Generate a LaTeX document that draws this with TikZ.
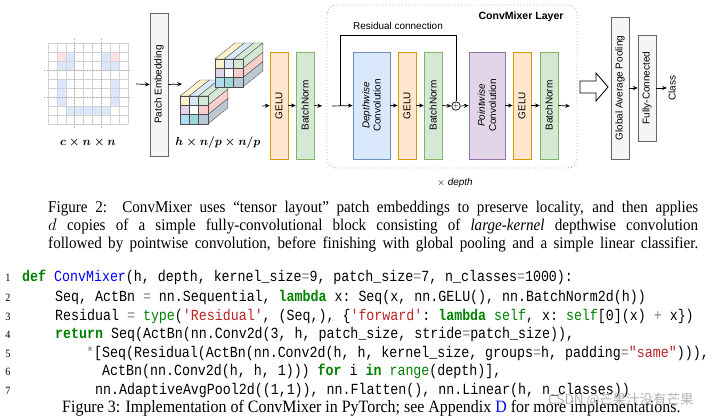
\documentclass[tikz,border=0pt]{standalone}
\usepackage{fontspec}
\setmainfont{Liberation Serif}
\setsansfont{Liberation Sans}
\setmonofont{Liberation Mono}[FakeStretch=0.86]
\newfontfamily\capf{Liberation Serif}[FakeStretch=0.92]
\newfontfamily\cjkf{Noto Sans CJK SC}
\usetikzlibrary{arrows.meta}
\definecolor{ofill}{HTML}{FFE6CC}\definecolor{odraw}{HTML}{D79B00}
\definecolor{gfill}{HTML}{D5E8D4}\definecolor{gdraw}{HTML}{82B366}
\definecolor{bfill}{HTML}{DAE8FC}\definecolor{bdraw}{HTML}{6C8EBF}
\definecolor{pfill}{HTML}{E1D5E7}\definecolor{pdraw}{HTML}{9673A6}
\definecolor{yfill}{HTML}{FFF2CC}\definecolor{rfill}{HTML}{F8CECC}
\definecolor{cfill}{HTML}{B1DDF0}\definecolor{sfill}{HTML}{BAC8D3}
\definecolor{tfill}{HTML}{9ED9D9}
\definecolor{kw}{HTML}{008000}\definecolor{st}{HTML}{BA2121}\definecolor{fn}{HTML}{0000FF}
\newcommand{\kwd}[1]{\textcolor{kw}{\textbf{#1}}}
\newcommand{\bi}[1]{\textcolor{kw}{#1}}
\newcommand{\str}[1]{\textcolor{st}{#1}}
\newcommand{\op}[1]{\textcolor{gray}{#1}}
\tikzset{
 box/.style={draw,line width=0.6pt,minimum height=0.54cm,minimum width=3.21cm,inner sep=0pt,font=\sffamily\fontsize{8.5}{9.5}\selectfont,align=center},
 gelu/.style={box,fill=ofill,draw=odraw},
 bn/.style={box,fill=gfill,draw=gdraw},
 grayb/.style={box,fill=gray!8,draw=gray!80!black},
 arr/.style={-{Stealth[length=4pt,width=3.5pt]},line width=0.6pt},
 code/.style={anchor=base west,inner sep=0pt,font=\ttfamily\fontsize{13.2}{14}\selectfont},
 lno/.style={anchor=base,inner sep=0pt,font=\capf\fontsize{9.5}{10}\selectfont},
 captx/.style={anchor=base west,inner sep=0pt,text width=19.5cm,align=justify,font=\capf\fontsize{14}{15}\selectfont},
 mlab/.style={font=\fontsize{10}{10}\selectfont\mathversion{bold}},
 cl/.style={draw=gray!60!black,line width=0.3pt},
}
\begin{document}
\begin{tikzpicture}[x=0.03cm,y=-0.03cm]
\useasboundingbox (0,0) rectangle (720,417);
% input grid
\foreach \cx/\ry in {1/1,2/1,1/2,2/2,6/1,7/1,6/2,7/2,1/4,1/5,7/4,7/5,1/6,7/6,2/7,3/7,4/7,5/7,6/7}{
  \fill[bfill] (48+\cx*8.9,43+\ry*9) rectangle ++(8.9,9);}
\fill[rfill!60] (56.9,52) rectangle ++(8.9,9);
\fill[rfill!60] (110.3,52) rectangle ++(8.9,9);
\foreach \i in {0,...,9}{
  \draw[gray!35,line width=0.4pt] (48+\i*8.9,43) -- (48+\i*8.9,124);
  \draw[gray!35,line width=0.4pt] (48,43+\i*9) -- (128,43+\i*9);}
\draw[gray!70,dotted,line width=0.6pt] (74.7,39) -- (74.7,128);
\draw[gray!70,dotted,line width=0.6pt] (101.4,39) -- (101.4,128);
\draw[gray!70,dotted,line width=0.6pt] (44,70) -- (132,70);
\draw[gray!70,dotted,line width=0.6pt] (44,97) -- (132,97);
\node[mlab] (lab1) at (88,143) {$c\times n\times n$};
\coordinate (g) at (136,84);
% patch embedding
\node[grayb,minimum width=4.29cm,rotate=90] (pe) at (159,84.5) {Patch Embedding};
\draw[arr] (g) -- (pe.north);
% cubes
\foreach \ox/\oy in {180/96,215/59}{
 \begin{scope}[shift={(\ox,\oy)}]
  \foreach \col/\cc in {0/yfill,1/bfill,2/gfill}{
    \filldraw[fill=\cc,cl] (\col*9.3,0) -- ++(20,-16) -- ++(9.3,0) -- ++(-20,16) -- cycle;}
  \foreach \row/\cc in {0/gfill,1/rfill,2/sfill}{
    \filldraw[fill=\cc,cl] (27.9,\row*9.3) -- ++(20,-16) -- ++(0,9.3) -- ++(-20,16) -- cycle;}
  \foreach \col/\row/\cc in {0/0/yfill,1/0/bfill,2/0/gfill,0/1/pfill,1/1/white,2/1/rfill,0/2/cfill,1/2/tfill,2/2/sfill}{
    \filldraw[fill=\cc,cl] (\col*9.3,\row*9.3) rectangle ++(9.3,9.3);}
 \end{scope}}
\coordinate (cub) at (182,84);
\draw[arr] (pe.south) -- (cub);
\node[mlab] (lab2) at (218,143) {$h\times n/p\times n/p$};
% first block
\coordinate (c1) at (262,106);
\node[gelu,rotate=90] (g1) at (279,105.5) {GELU};
\node[bn,rotate=90] (b1) at (305,105.5) {BatchNorm};
\draw[arr] (c1) -- (g1.north);
\draw[arr] (g1.south) -- (b1.north);
% layer frame
\draw[gray!60,dotted,line width=0.8pt,rounded corners=8pt] (327,5) rectangle (577,168);
\node[font=\sffamily\bfseries\fontsize{9}{10}\selectfont] (ttl) at (521,17) {ConvMixer Layer};
\node[font=\sffamily\fontsize{8.5}{9}\selectfont] (rc) at (398,26) {Residual connection};
\node[font=\sffamily\fontsize{8.5}{9}\selectfont] (xd) at (455,183) {$\times$ \textit{depth}};
\coordinate (in) at (332,106);
\coordinate (split) at (340,106);
\coordinate (bo) at (322,106);
\draw[arr] (b1.south) -- (bo);
\node[box,fill=bfill,draw=bdraw,minimum height=1.11cm,rotate=90] (dw) at (371.5,105.5) {\textit{Depthwise}\\Convolution};
\node[gelu,rotate=90] (g2) at (407,105.5) {GELU};
\node[bn,rotate=90] (b2) at (433,105.5) {BatchNorm};
\node[draw,circle,line width=0.6pt,minimum size=0.24cm,inner sep=0pt,font=\fontsize{6}{6}\selectfont] (pl) at (456,106) {$+$};
\node[box,fill=pfill,draw=pdraw,minimum height=1.08cm,rotate=90] (pw) at (487,105.5) {\textit{Pointwise}\\Convolution};
\node[gelu,rotate=90] (g3) at (522,105.5) {GELU};
\node[bn,rotate=90] (b3) at (549,105.5) {BatchNorm};
\coordinate (out) at (570,106);
\draw[arr] (in) -- (dw.north);
\draw[line width=0.6pt] (split) -- (340,35) -| (pl.north);
\draw[arr] (dw.south) -- (g2.north);
\draw[arr] (g2.south) -- (b2.north);
\draw[arr] (b2.south) -- (pl.west);
\draw[arr] (pl.east) -- (pw.north);
\draw[arr] (pw.south) -- (g3.north);
\draw[arr] (g3.south) -- (b3.north);
\draw[arr] (b3.south) -- (out);
% hollow arrow
\draw[line width=0.7pt,fill=white] (580,81) -- (596,81) -- (596,73) -- (608,87) -- (596,101) -- (596,93) -- (580,93) -- cycle;
\node[grayb,minimum width=4.26cm,rotate=90] (gap) at (620,88) {Global Average Pooling};
\node[grayb,minimum width=3.18cm,rotate=90] (fc) at (647,88) {Fully-Connected};
\node[rotate=90,font=\sffamily\fontsize{8.5}{9}\selectfont,inner sep=1pt] (cls) at (672,88) {Class};
\draw[arr] (gap.south) -- (fc.north);
\draw[arr] (fc.south) -- (cls.north);
% Figure 2 caption
\node[captx] (c2a) at (48,212) {\parfillskip=0pt Figure 2:\ \ ConvMixer uses “tensor layout” patch embeddings to preserve locality, and then applies\par};
\node[captx] (c2b) at (48,230) {\parfillskip=0pt $d$ copies of a simple fully-convolutional block consisting of \textit{large-kernel} depthwise convolution\par};
\node[captx] (c2c) at (48,248) {\parfillskip=0pt followed by pointwise convolution, before finishing with global pooling and a simple linear classifier.\par};
% code
\foreach \n/\yy in {1/281,2/301,3/320,4/338,5/357,6/375,7/394}{ \node[lno] (ln\n) at (8,\yy) {\n};}
\node[code] (l1) at (22,281) {\kwd{def} \textcolor{fn}{ConvMixer}(h, depth, kernel\_size\op{=}9, patch\_size\op{=}7, n\_classes\op{=}1000):};
\node[code] (l2) at (55,301) {Seq, ActBn \op{=} nn.Sequential, \kwd{lambda} x: Seq(x, nn.GELU(), nn.BatchNorm2d(h))};
\node[code] (l3) at (55,320) {Residual \op{=} \bi{type}(\str{'Residual'}, (Seq,), \{\str{'forward'}: \kwd{lambda} \bi{self}, x: \bi{self}[0](x) \op{+} x\})};
\node[code] (l4) at (55,338) {\kwd{return} Seq(ActBn(nn.Conv2d(3, h, patch\_size, stride\op{=}patch\_size)),};
\node[code] (l5) at (86,357) {\op{*}[Seq(Residual(ActBn(nn.Conv2d(h, h, kernel\_size, groups\op{=}h, padding\op{=}\str{"same"}))),};
\node[code] (l6) at (102,375) {ActBn(nn.Conv2d(h, h, 1))) \kwd{for} i \kwd{in} \bi{range}(depth)],};
\node[code] (l7) at (95,394) {nn.AdaptiveAvgPool2d((1,1)), nn.Flatten(), nn.Linear(h, n\_classes))};
\node[anchor=base west,inner sep=0pt,font=\capf\fontsize{14.8}{15}\selectfont] (c3) at (62,412) {Figure 3: Implementation of ConvMixer in PyTorch; see Appendix \textcolor{blue}{D} for more implementations.};
\node[anchor=base west,inner sep=0pt,text=gray!60,font=\cjkf\fontsize{11.5}{12}\selectfont] (wm) at (548,404) {CSDN @芒果汁没有芒果};
\end{tikzpicture}
\end{document}
